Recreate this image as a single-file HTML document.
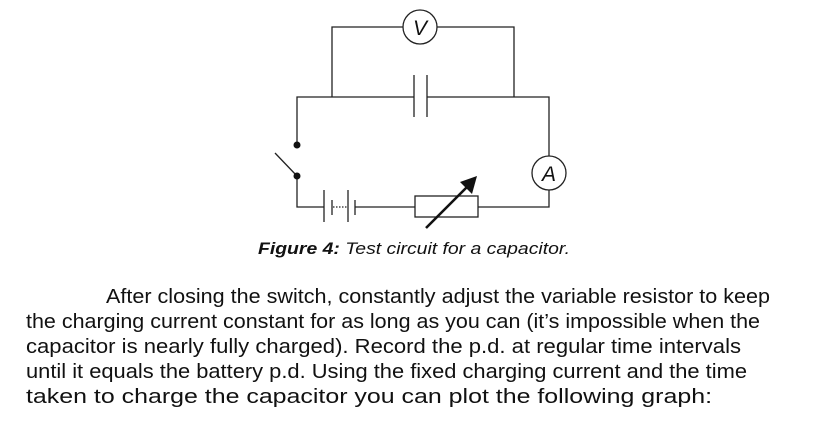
<!DOCTYPE html>
<html><head><meta charset="utf-8"><style>
html,body{margin:0;padding:0;background:#fff;}
svg{display:block;}
text{font-family:"Liberation Sans",sans-serif;fill:#111;}
</style></head><body>
<svg width="834" height="426" viewBox="0 0 834 426" xmlns="http://www.w3.org/2000/svg">
<g stroke="#222" stroke-width="1.3" fill="none">
<polyline points="332,97 332,27 403,27"/>
<polyline points="437,27 514,27 514,97"/>
<circle cx="420" cy="27" r="17" fill="#fff"/>
<polyline points="297,145 297,97 414,97"/>
<polyline points="427,97 549,97 549,156"/>
<line x1="414" y1="75" x2="414" y2="117"/>
<line x1="427" y1="75" x2="427" y2="117"/>
<circle cx="549" cy="173" r="17" fill="#fff"/>
<polyline points="549,190 549,207 478,207"/>
<rect x="415" y="196" width="63" height="21"/>
<polyline points="297,176 297,207 324,207"/>
<line x1="355" y1="207" x2="415" y2="207"/>
<line x1="324" y1="190" x2="324" y2="222"/>
<line x1="332" y1="200" x2="332" y2="215"/>
<line x1="348" y1="190" x2="348" y2="222"/>
<line x1="355" y1="200" x2="355" y2="215"/>
<line x1="333" y1="207" x2="347" y2="207" stroke-dasharray="1.5,1.5"/>
<line x1="275" y1="153" x2="297" y2="176"/>
</g>
<circle cx="297" cy="145" r="3.5" fill="#111"/>
<circle cx="297" cy="176" r="3.5" fill="#111"/>
<line x1="426" y1="228" x2="468" y2="186" stroke="#111" stroke-width="2.6"/>
<polygon points="477,176 472,194 460,182" fill="#111"/>
<text x="420" y="35" font-size="21" font-style="italic" text-anchor="middle">V</text>
<text x="549" y="181" font-size="21" font-style="italic" text-anchor="middle">A</text>
<text x="258" y="254" font-size="17" font-style="italic" textLength="312" lengthAdjust="spacingAndGlyphs"><tspan font-weight="bold">Figure 4:</tspan>  Test circuit for a capacitor.</text>
<g font-size="20">
<text x="106" y="303" textLength="664" lengthAdjust="spacingAndGlyphs">After closing the switch, constantly adjust the variable resistor to keep</text>
<text x="26" y="328" textLength="734" lengthAdjust="spacingAndGlyphs">the charging current constant for as long as you can (it’s impossible when the</text>
<text x="26" y="353" textLength="715" lengthAdjust="spacingAndGlyphs">capacitor is nearly fully charged).  Record the p.d. at regular time intervals</text>
<text x="26" y="378" textLength="721" lengthAdjust="spacingAndGlyphs">until it equals the battery p.d.  Using the fixed charging current and the time</text>
<text x="26" y="403" textLength="686" lengthAdjust="spacingAndGlyphs">taken to charge the capacitor you can plot the following graph:</text>
</g>
</svg>
</body></html>
